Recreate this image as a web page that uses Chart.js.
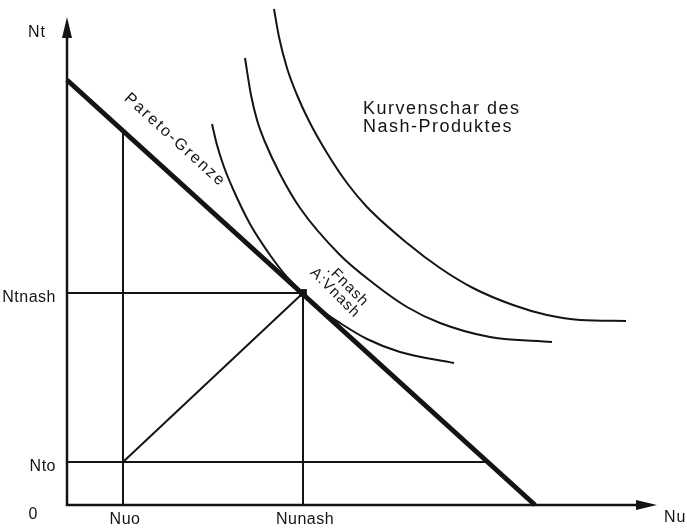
<!DOCTYPE html>
<html>
<head>
<meta charset="utf-8">
<script src="https://cdn.jsdelivr.net/npm/chart.js@4"></script>
<style>
  html, body { margin: 0; padding: 0; background: #fff; }
  #wrap { width: 687px; height: 531px; }
</style>
</head>
<body>
<div id="wrap"><canvas id="nashChart" width="687" height="531"></canvas></div>
<script>
// axis ranges (Nu horizontal, Nt vertical)
const nuMax = 590;
const ntMax = 488;

// Pareto frontier
const paretoNu = [0, 468];
const paretoNt = [425, 0];

// disagreement point and Nash solution
const nuo = 56, nto = 43;
const nunash = 236, ntnash = 212;
const nuoLineTop = 374;   // where Nuo meets the frontier
const ntoLineEnd = 421;   // where Nto meets the frontier

// level curves of the Nash product
const curve1Nu = [145, 150, 157, 166, 183, 203, 220, 236, 253, 273, 300, 333, 387];
const curve1Nt = [381, 360, 338, 316, 281, 250, 228, 212, 196, 182, 166, 153, 142];
const curve2Nu = [178, 184, 190, 198, 213, 233, 273, 306, 340, 373, 423, 485];
const curve2Nt = [447, 410, 385, 363, 331, 297, 250, 222, 198, 182, 168, 163];
const curve3Nu = [207, 212, 220, 230, 242, 260, 280, 300, 340, 373, 406, 446, 480, 513, 559];
const curve3Nt = [496, 468, 437, 410, 384, 352, 322, 298, 262, 237, 217, 200, 190, 185, 184];

// tick labels
const xTickValues = [nuo, nunash];
const xTickLabels = ['Nuo', 'Nunash'];
const yTickValues = [nto, ntnash];
const yTickLabels = ['Nto', 'Ntnash'];

const ink = '#141414';
const sans = '"Liberation Sans", Arial, sans-serif';

const pts = (us, ts) => us.map((u, i) => ({ x: u, y: ts[i] }));

function line(data, width) {
  return {
    data: data,
    showLine: true,
    borderColor: ink,
    borderWidth: width,
    pointRadius: 0,
    clip: false
  };
}

function curve(us, ts) {
  const ds = line(pts(us, ts), 2);
  ds.cubicInterpolationMode = 'monotone';
  return ds;
}

const datasets = [
  line(pts(paretoNu, paretoNt), 5),
  line([{ x: nuo, y: 0 }, { x: nuo, y: nuoLineTop }], 2),
  line([{ x: 0, y: nto }, { x: ntoLineEnd, y: nto }], 2),
  line([{ x: 0, y: ntnash }, { x: nunash, y: ntnash }], 2),
  line([{ x: nunash, y: 0 }, { x: nunash, y: ntnash }], 2),
  line([{ x: nuo, y: nto }, { x: nunash, y: ntnash }], 2),
  curve(curve1Nu, curve1Nt),
  curve(curve2Nu, curve2Nt),
  curve(curve3Nu, curve3Nt),
  {
    data: [{ x: nunash, y: ntnash }],
    pointStyle: 'rect',
    pointRadius: 5.5,
    borderWidth: 0,
    backgroundColor: ink,
    borderColor: ink,
    clip: false
  }
];

function text(ctx, str, x, y, size, spacing) {
  ctx.font = size + 'px ' + sans;
  ctx.letterSpacing = spacing + 'px';
  ctx.fillText(str, x, y);
}

// axes with arrows and all the text of the figure
const annotate = {
  id: 'annotate',
  afterDatasetsDraw(chart) {
    const { ctx, scales: { x, y } } = chart;
    const px = v => x.getPixelForValue(v);
    const py = v => y.getPixelForValue(v);
    const x0 = px(0), y0 = py(0);
    const xEnd = px(nuMax), yEnd = py(ntMax);

    ctx.save();
    ctx.strokeStyle = ink;
    ctx.fillStyle = ink;
    ctx.lineWidth = 2.5;
    ctx.beginPath();
    ctx.moveTo(x0, y0 + 1);
    ctx.lineTo(x0, yEnd + 18);
    ctx.moveTo(x0 - 1, y0);
    ctx.lineTo(xEnd - 18, y0);
    ctx.stroke();

    ctx.beginPath();
    ctx.moveTo(x0, yEnd);
    ctx.lineTo(x0 - 5, yEnd + 21);
    ctx.lineTo(x0 + 5, yEnd + 21);
    ctx.closePath();
    ctx.moveTo(xEnd, y0);
    ctx.lineTo(xEnd - 21, y0 - 5);
    ctx.lineTo(xEnd - 21, y0 + 5);
    ctx.closePath();
    ctx.fill();

    ctx.textBaseline = 'middle';
    ctx.textAlign = 'right';
    yTickValues.forEach((v, i) => text(ctx, yTickLabels[i], x0 - 11, py(v) + 5, 16, 0.5));
    ctx.textAlign = 'center';
    xTickValues.forEach((v, i) => text(ctx, xTickLabels[i], px(v) + 2, y0 + 15, 16, 0.5));
    text(ctx, '0', x0 - 34, y0 + 10, 16, 0);
    text(ctx, 'Nt', x0 - 30, yEnd + 16, 16, 1);
    ctx.textAlign = 'left';
    text(ctx, 'Nu', xEnd + 7, y0 + 13, 16, 1);

    ctx.textBaseline = 'alphabetic';
    text(ctx, 'Kurvenschar des', px(296), py(391), 18, 1.5);
    text(ctx, 'Nash-Produktes', px(296), py(373), 18, 1.5);

    // rotated labels
    const slope = Math.atan2(py(paretoNt[1]) - py(paretoNt[0]), px(paretoNu[1]) - px(paretoNu[0]));
    ctx.save();
    ctx.translate(px(108), py(365));
    ctx.rotate(slope);
    ctx.textAlign = 'center';
    ctx.textBaseline = 'middle';
    text(ctx, 'Pareto-Grenze', 0, 0, 16, 2);
    ctx.restore();

    ctx.save();
    ctx.translate(px(273), py(217));
    ctx.rotate(Math.PI / 4);
    ctx.textAlign = 'center';
    ctx.textBaseline = 'middle';
    text(ctx, '.Fnash', 4, -7, 15, 1);
    text(ctx, 'A:Vnash', 0, 7, 15, 1);
    ctx.restore();

    ctx.restore();
  }
};

new Chart(document.getElementById('nashChart'), {
  type: 'scatter',
  data: { datasets: datasets },
  options: {
    responsive: false,
    animation: false,
    layout: { padding: { left: 67, right: 30, top: 17, bottom: 26 } },
    plugins: { legend: { display: false }, tooltip: { enabled: false } },
    scales: {
      x: { type: 'linear', min: 0, max: nuMax, display: false },
      y: { type: 'linear', min: 0, max: ntMax, display: false }
    }
  },
  plugins: [annotate]
});
</script>
</body>
</html>
